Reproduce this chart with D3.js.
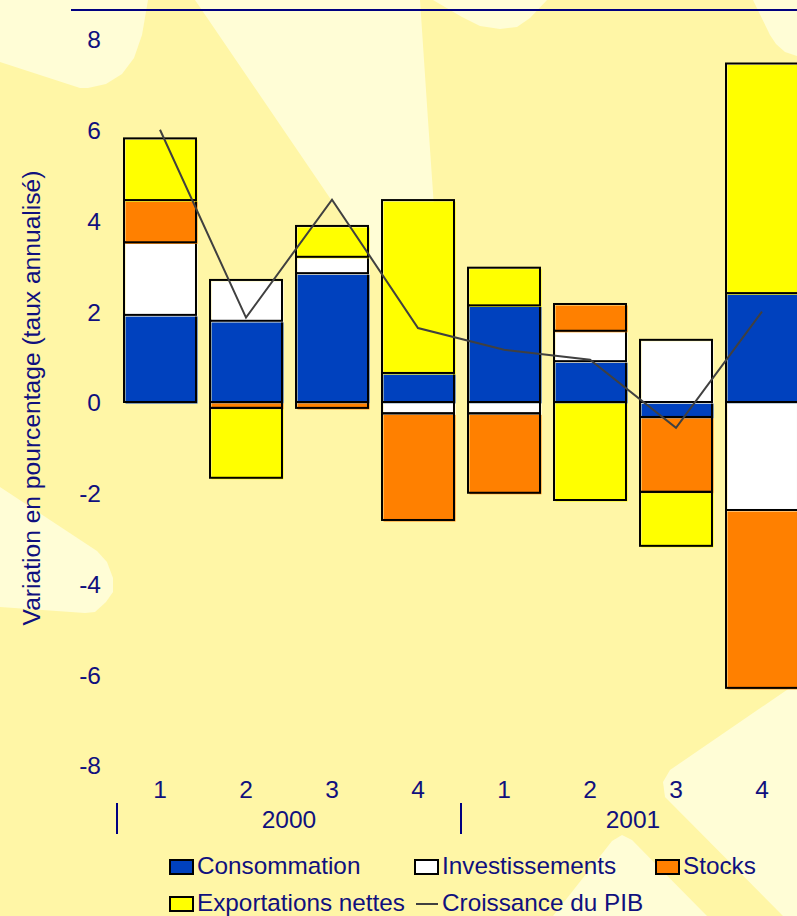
<!DOCTYPE html>
<html>
<head>
<meta charset="utf-8">
<script src="https://cdn.jsdelivr.net/npm/d3@7/dist/d3.min.js"></script>
<style>
  html, body { margin: 0; padding: 0; background: #FFF6A6; }
  svg { display: block; }
  text { font-family: "Liberation Sans", Arial, sans-serif; fill: #10107E; }
</style>
</head>
<body>
<svg id="chart" width="797" height="916"></svg>
<script>
// Quarterly contributions to GDP growth (annualised rate, %)
const quarters = ["1", "2", "3", "4", "1", "2", "3", "4"];
const years = ["2000", "2001"];
const consommation    = [1.92, 1.79, 2.84, 0.64, 2.13, 0.90, -0.33, 2.40];
const investissements = [1.60, 0.90, 0.36, -0.25, -0.25, 0.67, 1.37, -2.38];
const stocks          = [0.93, -0.13, -0.13, -2.35, -1.75, 0.59, -1.65, -3.92];
const exportations    = [1.36, -1.54, 0.68, 3.81, 0.83, -2.16, -1.19, 5.06];
const croissancePIB   = [6.00, 1.86, 4.46, 1.63, 1.15, 0.93, -0.57, 1.99];
const yTicks = [8, 6, 4, 2, 0, -2, -4, -6, -8];

const seriesNames = ["Consommation", "Investissements", "Stocks", "Exportations nettes"];
const seriesValues = [consommation, investissements, stocks, exportations];
const seriesColors = ["#0041BE", "#FFFFFF", "#FF8000", "#FFFF00"];

const rows = quarters.map((q, i) => {
  const r = { idx: i };
  seriesNames.forEach((k, s) => { r[k] = seriesValues[s][i]; });
  return r;
});

const svg = d3.select("#chart");
const W = 797, H = 916;
const FS = 24.5;

// Sunburst-style backdrop
const bg = svg.append("g");
bg.append("rect").attr("width", W).attr("height", H).attr("fill", "#FFF6A6");
const lightShapes = [
  [[0,0],[148,0],[142,35],[134,58],[122,74],[106,84],[88,88],[80,88],[0,62]],
  [[195,0],[420,0],[428,120],[445,367]],
  [[433,0],[547,0],[530,18],[517,27],[500,29],[480,26],[462,17]],
  [[753,0],[797,0],[797,56],[785,52],[776,44],[770,35]],
  [[0,487],[97,551],[107,562],[113,578],[113,592],[106,602],[95,612],[85,613],[0,607]],
  [[797,683],[670,770],[663,782],[665,797],[783,916],[797,916]],
  [[553,916],[612,841],[622,835],[632,840],[707,916]]
];
const shapeLine = d3.line().curve(d3.curveLinearClosed);
bg.selectAll("path").data(lightShapes).join("path")
  .attr("d", shapeLine).attr("fill", "#FFFDD6");

// Scales
const x = d3.scaleBand()
  .domain(d3.range(quarters.length))
  .range([117, 805])
  .paddingInner(0.163)
  .paddingOuter(0.0815);
const y = d3.scaleLinear().domain([-8, 8]).range([765, 39]);

// Top rule
svg.append("line")
  .attr("x1", 71).attr("x2", W).attr("y1", 10).attr("y2", 10)
  .attr("stroke", "#000080").attr("stroke-width", 2);

// Y axis labels (plain hyphen for negatives)
const yAxis = d3.axisLeft(y).tickValues(yTicks).tickSize(0).tickPadding(0)
  .tickFormat(d => String(d));
const gy = svg.append("g").attr("transform", "translate(101,0)").call(yAxis);
gy.select(".domain").remove();
gy.selectAll("text")
  .attr("font-size", FS).attr("font-family", null).attr("fill", "#10107E")
  .attr("dy", "0.36em");

svg.append("text")
  .attr("transform", "translate(40,398) rotate(-90)")
  .attr("text-anchor", "middle")
  .attr("font-size", 24.6)
  .text("Variation en pourcentage (taux annualisé)");

// Stacked bars (positive and negative parts stacked separately)
const stack = d3.stack().keys(seriesNames).offset(d3.stackOffsetDiverging);
const stacked = stack(rows);

const barLayer = svg.append("g");
stacked.forEach((layer, s) => {
  const g = barLayer.append("g");
  layer.forEach((seg, i) => {
    const y0 = y(Math.max(seg[0], seg[1]));
    const y1 = y(Math.min(seg[0], seg[1]));
    const bx = x(i), bw = x.bandwidth();
    g.append("rect")
      .attr("x", bx + 1.5).attr("y", y0 + 1.5)
      .attr("width", bw).attr("height", y1 - y0)
      .attr("fill", seriesColors[s]);
    g.append("rect")
      .attr("x", bx).attr("y", y0)
      .attr("width", bw).attr("height", y1 - y0)
      .attr("fill", "none").attr("stroke", "#000").attr("stroke-width", 2);
  });
});

// GDP growth line
const line = d3.line()
  .x((d, i) => x(i) + x.bandwidth() / 2)
  .y(d => y(d));
svg.append("path")
  .datum(croissancePIB)
  .attr("d", line)
  .attr("fill", "none")
  .attr("stroke", "#404040")
  .attr("stroke-width", 2);

// Category axis: quarters and years
const gx = svg.append("g");
gx.selectAll("text.q").data(quarters).join("text")
  .attr("class", "q")
  .attr("x", (d, i) => x(i) + x.bandwidth() / 2)
  .attr("y", 798)
  .attr("text-anchor", "middle")
  .attr("font-size", FS)
  .text(d => d);

years.forEach((yr, k) => {
  const first = k * 4, last = k * 4 + 3;
  const cx = (x(first) + x(last) + x.bandwidth()) / 2;
  gx.append("text")
    .attr("x", cx).attr("y", 828)
    .attr("text-anchor", "middle")
    .attr("font-size", FS)
    .text(yr);
  const sepX = x(first) - x.step() * x.paddingOuter();
  gx.append("line")
    .attr("x1", sepX).attr("x2", sepX)
    .attr("y1", 803).attr("y2", 834)
    .attr("stroke", "#000080").attr("stroke-width", 2);
});

// Legend
const legendItems = [
  { name: "Consommation", color: seriesColors[0], x: 170, y: 860, type: "box" },
  { name: "Investissements", color: seriesColors[1], x: 415, y: 860, type: "box" },
  { name: "Stocks", color: seriesColors[2], x: 656, y: 860, type: "box" },
  { name: "Exportations nettes", color: seriesColors[3], x: 170, y: 897, type: "box" },
  { name: "Croissance du PIB", color: "#404040", x: 415, y: 897, type: "line" }
];
const lg = svg.append("g");
legendItems.forEach(it => {
  if (it.type === "box") {
    lg.append("rect")
      .attr("x", it.x + 1).attr("y", it.y + 1)
      .attr("width", 23).attr("height", 14).attr("fill", it.color);
    lg.append("rect")
      .attr("x", it.x).attr("y", it.y)
      .attr("width", 23).attr("height", 14)
      .attr("fill", "none").attr("stroke", "#000").attr("stroke-width", 2);
  } else {
    lg.append("line")
      .attr("x1", it.x + 1).attr("x2", it.x + 23)
      .attr("y1", it.y + 7).attr("y2", it.y + 7)
      .attr("stroke", it.color).attr("stroke-width", 2);
  }
  lg.append("text")
    .attr("x", it.x + 27).attr("y", it.y + 14)
    .attr("font-size", 24.3)
    .text(it.name);
});
</script>
</body>
</html>
